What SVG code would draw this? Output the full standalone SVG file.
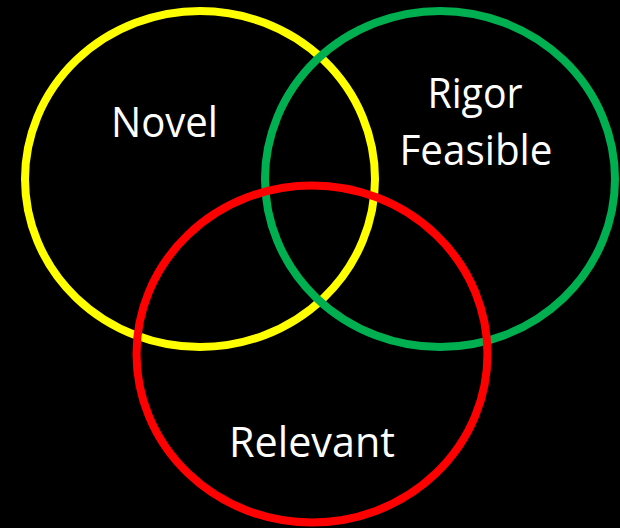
<svg xmlns="http://www.w3.org/2000/svg" width="620" height="528" viewBox="0 0 620 528">
  <style>
    .ring { fill: none; stroke-width: 8; }
    .label { fill: #ffffff; font-family: "Open Sans", "Noto Sans", "Liberation Sans", sans-serif; font-size: 42px; text-anchor: middle; }
  </style>
  <rect x="0" y="0" width="620" height="528" fill="#000000"/>
  <g id="novel">
    <ellipse class="ring" cx="200" cy="179" rx="175" ry="168" stroke="#FFFF00"/>
    <text class="label" x="164.5" y="137" textLength="107" lengthAdjust="spacingAndGlyphs">Novel</text>
  </g>
  <g id="rigor-feasible">
    <ellipse class="ring" cx="440" cy="179" rx="175" ry="168" stroke="#00B050"/>
    <text class="label" x="475" y="108" textLength="95" lengthAdjust="spacingAndGlyphs">Rigor</text>
    <text class="label" x="476" y="165" textLength="153" lengthAdjust="spacingAndGlyphs">Feasible</text>
  </g>
  <g id="relevant">
    <ellipse class="ring" cx="312" cy="354" rx="175.5" ry="168.5" stroke="#FF0000"/>
    <text class="label" x="312" y="457" textLength="166" lengthAdjust="spacingAndGlyphs">Relevant</text>
  </g>
  <g id="connectors"/>
</svg>
